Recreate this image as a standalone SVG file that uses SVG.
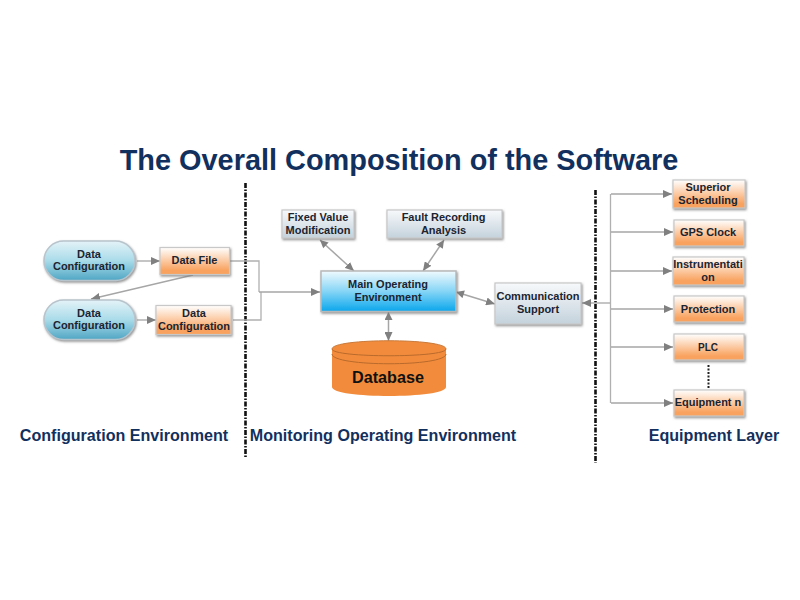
<svg xmlns="http://www.w3.org/2000/svg" width="800" height="600" viewBox="0 0 800 600">
<style>
text{font-family:"Liberation Sans",Arial,sans-serif;font-weight:700;text-anchor:middle}
.n{font-size:11px;fill:#1c2430}
.h{font-size:16.100px;fill:#12305e}
.c{fill:none;stroke:#b0b0b0;stroke-width:1.300}
.d{fill:none;stroke:#a6a6a6;stroke-width:1.300;marker-end:url(#a)}
.b{fill:none;stroke:#a6a6a6;stroke-width:1.500;marker-start:url(#s);marker-end:url(#a)}
.o{fill:url(#og);stroke:#c8c8c8;stroke-width:1.200;filter:url(#sh)}
.g{fill:url(#gg);stroke:#c8c8c8;stroke-width:1.200;filter:url(#sh)}
.t{fill:url(#tg);stroke:#b8c4cc;stroke-width:1.500;filter:url(#sh)}
.sep{stroke:#111;stroke-width:2.600;stroke-dasharray:5 1.500 1.500 1.500}
</style>
<defs>
<linearGradient id="og" x1="0" y1="0" x2="0" y2="1"><stop offset="0" stop-color="#fff"/><stop offset=".85" stop-color="#f9a25e"/><stop offset="1" stop-color="#f9a25e"/></linearGradient>
<linearGradient id="gg" x1="0" y1="0" x2="0" y2="1"><stop offset="0" stop-color="#f7f9fb"/><stop offset="1" stop-color="#c4d2dc"/></linearGradient>
<linearGradient id="tg" x1="0" y1="0" x2="0" y2="1"><stop offset="0" stop-color="#e4f3f8"/><stop offset=".5" stop-color="#a9dbe9"/><stop offset="1" stop-color="#50a6c4"/></linearGradient>
<linearGradient id="bg" x1="0" y1="0" x2="0" y2="1"><stop offset="0" stop-color="#f0fafe"/><stop offset=".5" stop-color="#86d5f6"/><stop offset="1" stop-color="#0aa6ec"/></linearGradient>
<filter id="sh" x="-10%" y="-10%" width="125%" height="130%"><feDropShadow dx="1" dy="1.500" stdDeviation="0.800" flood-color="#777" flood-opacity=".8"/></filter>
<marker id="a" markerUnits="userSpaceOnUse" markerWidth="11" markerHeight="8" refX="9" refY="4" orient="auto"><path d="M0 0L9 4L0 8Z" fill="#808080"/></marker>
<marker id="s" markerUnits="userSpaceOnUse" markerWidth="11" markerHeight="8" refX="1" refY="4" orient="auto"><path d="M9 0L1 4L9 8Z" fill="#808080"/></marker>
</defs>
<rect width="800" height="600" fill="#fff"/>
<text x="399" y="170" style="font-size:28.900px;fill:#12305e">The Overall Composition of the Software</text>
<line class="sep" x1="245.500" y1="183" x2="245.500" y2="458"/>
<line class="sep" x1="595.500" y1="190" x2="595.500" y2="463"/>
<g id="connectors">
<path class="d" d="M137 261H160"/>
<path class="d" d="M193 275L91 299"/>
<path class="d" d="M137 320H156"/>
<path class="c" d="M230 261H259V292M233 320H261V292"/>
<path class="d" d="M259 292H320"/>
<path class="b" d="M320 240L354 271"/>
<path class="b" d="M444 240L423 271"/>
<path class="b" d="M456 292L495 304"/>
<path class="b" d="M388.500 312V341"/>
<path class="d" d="M611 303H582"/>
<path class="c" d="M610.500 194V403"/>
<path class="d" d="M611 194H672"/>
<path class="d" d="M611 232H673"/>
<path class="d" d="M611 271H672"/>
<path class="d" d="M611 309H673"/>
<path class="d" d="M611 347H673"/>
<path class="d" d="M611 403H673"/>
<path d="M708.500 365V388" fill="none" stroke="#222" stroke-width="2" stroke-dasharray="2 1.500"/>
</g>
<g id="n1"><rect class="t" x="44" y="241" width="91" height="39.500" rx="19.700"/><text class="n" x="89" y="258">Data</text><text class="n" x="89" y="270">Configuration</text></g>
<g id="n2"><rect class="o" x="160" y="247.500" width="69.500" height="27"/><text class="n" x="194.500" y="264">Data File</text></g>
<g id="n3"><rect class="t" x="44" y="300" width="91" height="39.500" rx="19.700"/><text class="n" x="89" y="317">Data</text><text class="n" x="89" y="329">Configuration</text></g>
<g id="n4"><rect class="o" x="156" y="305.500" width="75" height="29"/><text class="n" x="194" y="317">Data</text><text class="n" x="194" y="330">Configuration</text></g>
<g id="n5"><rect class="g" x="282" y="210" width="72" height="28"/><text class="n" x="318" y="221">Fixed Value</text><text class="n" x="318" y="233.500">Modification</text></g>
<g id="n6"><rect class="g" x="387" y="210" width="115" height="28"/><text class="n" x="443.500" y="221">Fault Recording</text><text class="n" x="443.500" y="234">Analysis</text></g>
<g id="n7"><rect x="321" y="271" width="135" height="40.500" fill="url(#bg)" stroke="#b8b8b8" stroke-width="1.500" filter="url(#sh)"/><text class="n" x="388" y="288">Main Operating</text><text class="n" x="388" y="301">Environment</text></g>
<g id="n8"><rect class="g" x="495" y="283" width="86" height="41"/><text class="n" x="538" y="300">Communication</text><text class="n" x="538" y="313">Support</text></g>
<g id="n9"><path d="M332 349C332 338 446 338 446 349V387C446 399 332 399 332 387Z" fill="#f28c3c"/><path d="M332 349C332 358 446 358 446 349" fill="none" stroke="#b96a2c"/><path d="M332 349C332 338 446 338 446 349" fill="none" stroke="#c97a3a"/><path d="M332 354C332 367 446 367 446 354" fill="none" stroke="#b96a2c"/><text x="388" y="383" style="font-size:16.200px;fill:#111">Database</text></g>
<g id="n10"><rect class="o" x="673" y="180" width="72" height="28"/><text class="n" x="708" y="191">Superior</text><text class="n" x="708" y="203.500">Scheduling</text></g>
<g id="n11"><rect class="o" x="674" y="220" width="70" height="26"/><text class="n" x="708" y="236">GPS Clock</text></g>
<g id="n12"><rect class="o" x="673" y="257" width="71" height="28"/><text class="n" x="708" y="268">Instrumentati</text><text class="n" x="708" y="281">on</text></g>
<g id="n13"><rect class="o" x="674" y="296" width="70" height="26"/><text class="n" x="708" y="312.500">Protection</text></g>
<g id="n14"><rect class="o" x="674" y="334" width="70" height="26"/><text x="708" y="350.500" style="font-size:10px;fill:#1c2430">PLC</text></g>
<g id="n15"><rect class="o" x="674" y="390" width="70" height="26"/><text class="n" x="708" y="406">Equipment n</text></g>
<text class="h" x="124" y="441">Configuration Environment</text>
<text class="h" x="383" y="441">Monitoring Operating Environment</text>
<text class="h" x="714" y="441">Equipment Layer</text>
</svg>
